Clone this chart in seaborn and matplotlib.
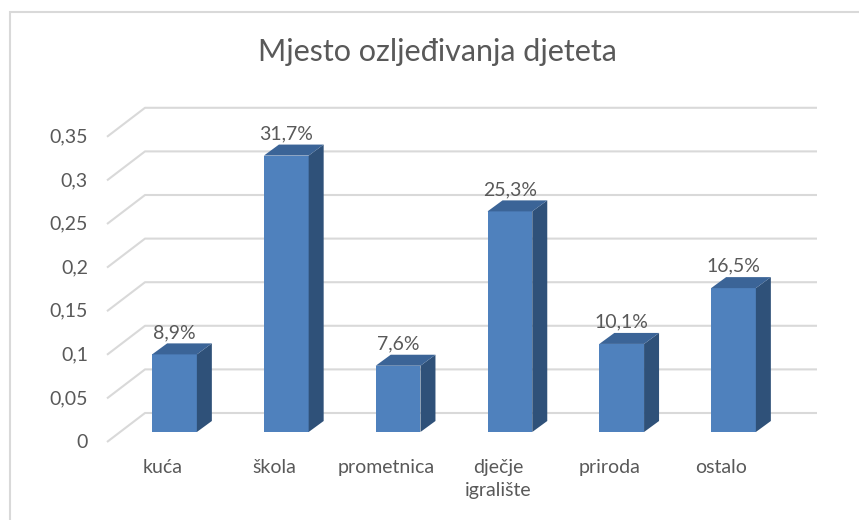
import matplotlib
matplotlib.use("Agg")
import matplotlib.pyplot as plt
from matplotlib.patches import Polygon, Rectangle
import seaborn as sns
import pandas as pd

sns.set_theme(style="white")
plt.rcParams['font.family'] = ['Lato', 'DejaVu Sans']

# podaci
kategorije = ['kuća', 'škola', 'prometnica', 'dječje\nigralište', 'priroda', 'ostalo']
udjeli = [0.089, 0.317, 0.076, 0.253, 0.101, 0.165]
oznake_y = [0, 0.05, 0.1, 0.15, 0.2, 0.25, 0.3, 0.35]
tekst_y = ['0', '0,05', '0,1', '0,15', '0,2', '0,25', '0,3', '0,35']

df = pd.DataFrame({'mjesto': kategorije, 'udio': udjeli})

W, H = 859, 520
fig = plt.figure(figsize=(W / 100, H / 100), dpi=100)
ax = fig.add_axes([0, 0, 1, 1])

# piksel -> podaci (kategorija 0 u x=174.5 px, razmak 111.8 px; y=0 na 432 px od vrha, 872 px po jedinici)
PX_X = 111.8
PX_Y = 872.0
X0 = 174.5
Y0 = 432.0


def px_x(px):
    return (px - X0) / PX_X


def px_y(px):
    return (Y0 - px) / PX_Y


prednja = '#4F81BD'
bocna = '#2F5179'
gornja = '#3B6497'
siva = '#595959'
mreza = '#D9D9D9'

sns.barplot(data=df, x='mjesto', y='udio', color=prednja, saturation=1,
            width=0.4, ax=ax, zorder=3, linewidth=0)

ax.set_xlim(px_x(0), px_x(W))
ax.set_ylim(px_y(H), px_y(0))
ax.axis('off')

# stražnji zid - linije mreže
for v, t in zip(oznake_y, tekst_y):
    yf = v - 10 / PX_Y
    yb = v + 19 / PX_Y
    ax.plot([px_x(107), px_x(145), px_x(817)], [yf, yb, yb],
            color=mreza, lw=1.5, zorder=0, solid_capstyle='butt')
    ax.text(px_x(88), yf, t, ha='right', va='center', fontsize=14, color=siva)

# 3D strane stupaca
dx = 15 / PX_X
dy = 11 / PX_Y
for p, v in zip(ax.patches, udjeli):
    x0 = p.get_x()
    w = p.get_width()
    h = p.get_height()
    ax.add_patch(Polygon([(x0 + w, 0), (x0 + w + dx, dy), (x0 + w + dx, h + dy), (x0 + w, h)],
                         closed=True, facecolor=bocna, edgecolor='none', zorder=3))
    ax.add_patch(Polygon([(x0, h), (x0 + dx, h + dy), (x0 + w + dx, h + dy), (x0 + w, h)],
                         closed=True, facecolor=gornja, edgecolor='none', zorder=3))
    ax.text(x0 + w / 2, h + 22 / PX_Y, f'{v * 100:.1f}%'.replace('.', ','),
            ha='center', va='center', fontsize=14, color=siva, zorder=4)

# kategorije
for i, k in enumerate(kategorije):
    ax.text(i - 12 / PX_X, px_y(459), k, ha='center', va='top', fontsize=14,
            color=siva, linespacing=1.45)

fig.text(437 / W, 1 - 52 / H, 'Mjesto ozljeđivanja djeteta', ha='center', va='center',
         fontsize=22, color=siva)

# okvir
fig.patches.append(Rectangle((10 / W, -0.1), 1.2, 1.1 - 12 / H, transform=fig.transFigure,
                             fill=False, edgecolor=mreza, lw=1.5))

fig.savefig('out.png', dpi=100)
